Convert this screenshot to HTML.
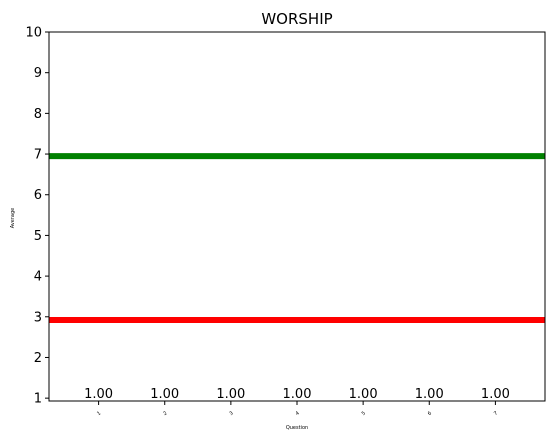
<!DOCTYPE html>
<html><head><meta charset="utf-8"><style>
body{margin:0;background:#fff;width:558px;height:440px;overflow:hidden}
svg{font-family:"DejaVu Sans","Liberation Sans",sans-serif}
</style></head><body>
<svg id="c" width="558" height="440"></svg>
<script>
const categories=["1","2","3","4","5","6","7"];
const barValues=[1,1,1,1,1,1,1];
const barLabels=["1.00","1.00","1.00","1.00","1.00","1.00","1.00"];
const greenLevel=[6.95];
const redLevel=[2.92];
const yTicks=[1,2,3,4,5,6,7,8,9,10];
const L=49,R=545,T=32,B=401,xmin=0.25,xmax=7.75,ymin=0.93,ymax=10;
const xs=v=>L+(v-xmin)/(xmax-xmin)*(R-L);
const ys=v=>B-(v-ymin)/(ymax-ymin)*(B-T);
const s=document.getElementById('c'),NS='http://www.w3.org/2000/svg';
function mk(t,a,txt){const e=document.createElementNS(NS,t);for(const k in a)e.setAttribute(k,a[k]);if(txt!=null)e.textContent=txt;s.appendChild(e);return e;}
let e=mk('text',{x:297,y:24,'text-anchor':'middle','font-size':15},'WORSHIP');


yTicks.forEach(v=>{const y=ys(v);
 let t=mk('line',{x1:L-4,x2:L,y1:y,y2:y,stroke:'#000'});
 
 
 let l=mk('text',{x:L-7,y:y+4.5,'text-anchor':'end','font-size':13},String(v));
 
 });
categories.forEach((c,i)=>{const x=xs(i+1);
 let b=mk('rect',{x:xs(i+1-0.4),y:ys(barValues[i]),width:xs(0.8)-xs(0),height:Math.max(0,B-ys(barValues[i])),fill:'none'});
 
 
 let v=mk('text',{x:x,y:ys(barValues[i]),'text-anchor':'middle','font-size':13},barLabels[i]);
 
 
 let t=mk('line',{x1:x,x2:x,y1:B,y2:B+4,stroke:'#000'});
 
 
 let l=mk('text',{x:x,y:B+14,'text-anchor':'middle','font-size':5,transform:`rotate(-35 ${x} ${B+12})`},c);
 
 });
let g=mk('line',{x1:L,x2:R,y1:ys(greenLevel[0]),y2:ys(greenLevel[0]),stroke:'#008000','stroke-width':6});


let r=mk('line',{x1:L,x2:R,y1:ys(redLevel[0]),y2:ys(redLevel[0]),stroke:'#ff0000','stroke-width':6});


let f=mk('rect',{x:L,y:T,width:R-L,height:B-T,fill:'none',stroke:'#000','stroke-width':1});


let xt=mk('text',{x:297,y:429,'text-anchor':'middle','font-size':5},'Question');


let yt=mk('text',{x:14,y:218,'text-anchor':'middle','font-size':5,transform:'rotate(-90 14 218)'},'Average');


</script>
</body></html>
